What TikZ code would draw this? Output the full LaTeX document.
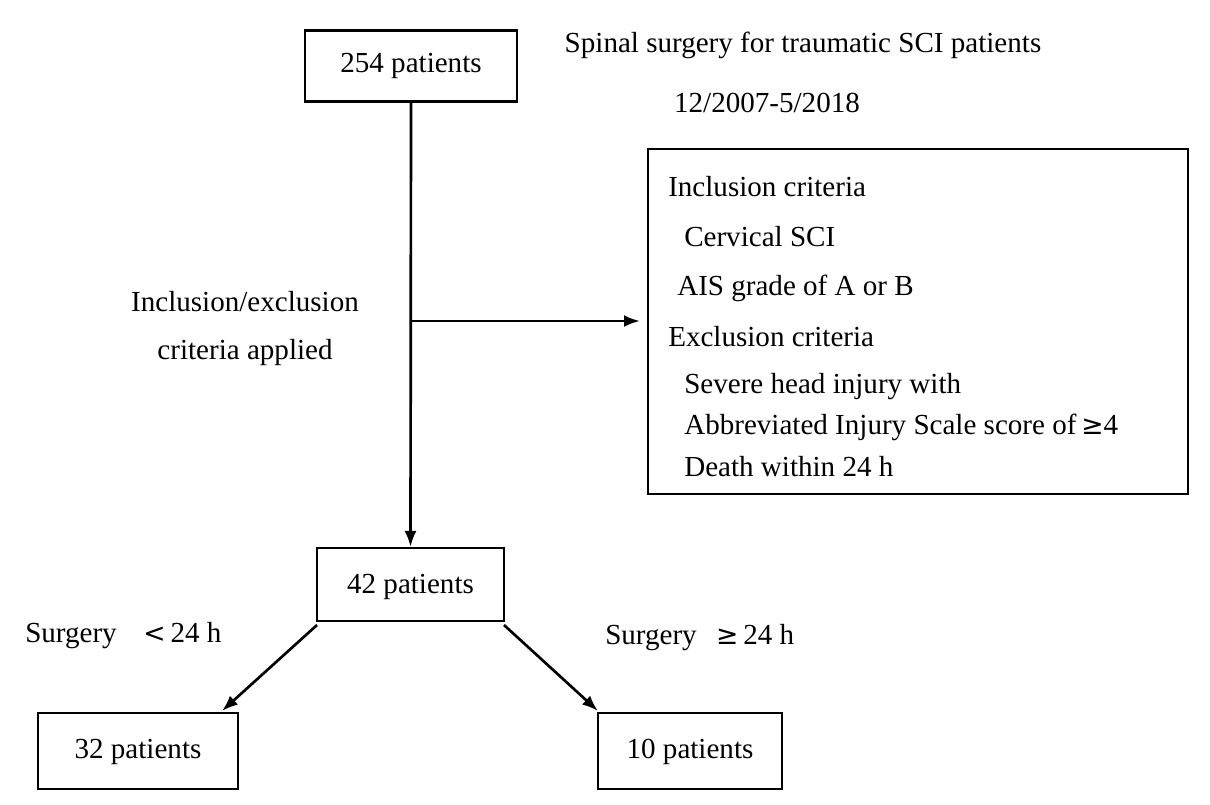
\documentclass[tikz,border=0pt]{standalone}
\usepackage{fontspec}
\setmainfont{Liberation Serif}
\usetikzlibrary{arrows.meta}
\begin{document}
\begin{tikzpicture}[x=0.75pt,y=-0.75pt,
  box/.style={draw,line width=1.6pt,inner sep=0pt},
  txt/.style={font=\fontsize{21.8}{25}\selectfont,inner sep=0pt},
  lt/.style={txt,anchor=west},
  arr/.style={line width=2pt,-{Latex[length=12pt,width=9pt]}}]
\useasboundingbox (0,0) rectangle (1210,804);
\node[box,minimum width=212*0.75pt,minimum height=71*0.75pt] (a) at (411,66) {};
\node[txt] at (411,66) {254 patients};
\node[txt] (t1) at (803,45) {Spinal surgery for traumatic SCI patients};
\node[txt] (t2) at (767,103) {12/2007-5/2018};
\node[box,minimum width=540*0.75pt,minimum height=345*0.75pt] (c) at (918,321.5) {};
\node[lt] at (668,187) {Inclusion criteria};
\node[lt] at (684,237) {Cervical SCI};
\node[lt] at (677,288) {AIS grade of A or B};
\node[lt] at (668,337) {Exclusion criteria};
\node[lt] at (684,387) {Severe head injury with};
\node[lt] at (684,427) {Abbreviated Injury Scale score of\,{\fontspec{DejaVu Sans}\fontsize{20}{22}\selectfont ≥}4};
\node[lt] at (684,467) {Death within 24 h};
\node[txt] (l1) at (245,302) {Inclusion/exclusion};
\node[txt] (l2) at (245,353) {criteria applied};
\node[box,minimum width=187*0.75pt,minimum height=73*0.75pt] (b) at (410.5,584.5) {};
\node[txt] at (410.5,587) {42 patients};
\node[box,minimum width=200*0.75pt,minimum height=76*0.75pt] (d) at (138,751) {};
\node[txt] at (138,752) {32 patients};
\node[box,minimum width=184*0.75pt,minimum height=76*0.75pt] (e) at (690,751) {};
\node[txt] at (690,752) {10 patients};
\coordinate (j) at (411,321);
\draw[arr] (a.south) -- (b.north);
\draw[arr] (j) -- (640,321);
\draw[arr] (317,625) -- (222,711);
\draw[arr] (504,625) -- (598,711);
\node[txt,anchor=west] at (25,636) {Surgery \ \ \,{\fontspec{DejaVu Sans}\fontsize{20}{22}\selectfont <}\,24 h};
\node[txt,anchor=west] at (605,638) {Surgery \ \,{\fontspec{DejaVu Sans}\fontsize{20}{22}\selectfont ≥}\,24 h};
\end{tikzpicture}
\end{document}
